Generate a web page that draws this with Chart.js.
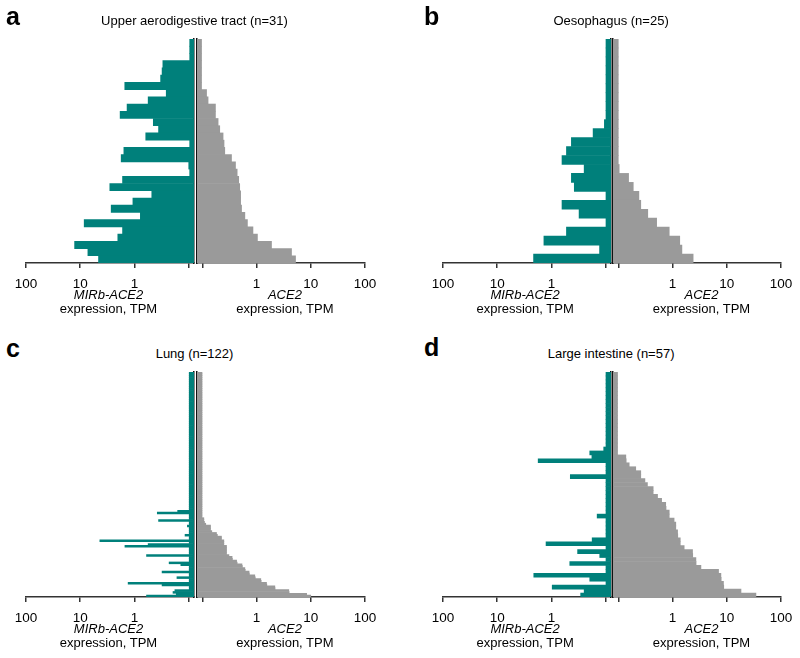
<!DOCTYPE html>
<html>
<head>
<meta charset="utf-8">
<script src="https://cdn.jsdelivr.net/npm/chart.js@4.4.1/dist/chart.umd.min.js"></script>
<style>
  body{margin:0;background:#fff}
  #fig{position:relative;width:800px;height:658px;background:#fff;overflow:hidden;
       font-family:Arial,"Liberation Sans",sans-serif;color:#000}
  #fig canvas{position:absolute}
  .txt{position:absolute;white-space:nowrap;font-size:13px;line-height:14.3px;text-align:center;transform:translateX(-50%)}
  .letter{position:absolute;font-weight:bold;font-size:25px;line-height:25px}
</style>
</head>
<body>
<div id="fig"></div>
<script>
/* ── DATA (TPM per sample, top row first) ───────────────── */
const panelLetters = ['a','b','c','d'];
const panelTitles  = ['Upper aerodigestive tract (n=31)','Oesophagus (n=25)','Lung (n=122)','Large intestine (n=57)'];
const tickValues   = [0.1, 1, 10, 100];
const tickLabels   = ['', '1', '10', '100'];
const leftGene  = 'MIRb-ACE2';
const rightGene = 'ACE2';
const axisUnit  = 'expression, TPM';

const aMirb = [0.096,0.096,0.096,0.30,0.31,0.33,1.51,0.26,0.56,1.37,
               1.84,0.45,0.36,0.62,0.096,1.57,1.76,0.10,0.096,1.66,
               2.85,0.48,1.07,2.69,0.78,8.46,1.66,2.03,12.7,7.23,
               4.6];
const aAce2 = [0.097,0.097,0.097,0.097,0.097,0.097,0.097,0.12,0.128,0.175,
               0.175,0.196,0.21,0.242,0.252,0.26,0.346,0.41,0.44,0.47,
               0.49,0.51,0.51,0.53,0.61,0.68,0.86,1.04,1.89,4.42,
               5.24];

const bMirb = [0.099,0.099,0.099,0.099,0.099,0.099,0.099,0.099,0.099,0.106,
               0.171,0.43,0.53,0.64,0.25,0.43,0.38,0.099,0.64,0.31,
               0.099,0.53,1.38,0.13,2.14];
const bAce2 = [0.1,0.1,0.1,0.1,0.1,0.1,0.1,0.1,0.1,0.1,
               0.1,0.1,0.1,0.1,0.104,0.155,0.189,0.24,0.26,0.35,
               0.51,0.87,1.36,1.49,2.4];

const cMirb = [0.098,0.098,0.098,0.098,0.098,0.098,0.098,0.098,0.098,0.098,
               0.098,0.098,0.098,0.098,0.098,0.098,0.098,0.098,0.098,0.098,
               0.098,0.098,0.098,0.098,0.098,0.098,0.098,0.098,0.098,0.098,
               0.098,0.098,0.098,0.098,0.098,0.098,0.098,0.098,0.098,0.098,
               0.098,0.098,0.098,0.098,0.098,0.098,0.098,0.098,0.098,0.098,
               0.098,0.098,0.098,0.098,0.098,0.098,0.098,0.098,0.098,0.098,
               0.098,0.098,0.098,0.098,0.098,0.098,0.098,0.098,0.098,0.098,
               0.098,0.098,0.098,0.098,0.098,0.16,0.38,0.098,0.098,0.098,
               0.36,0.098,0.098,0.106,0.098,0.098,0.098,0.098,0.117,0.098,
               0.098,4.35,0.098,0.56,1.5,0.098,0.098,0.098,0.098,0.6,
               0.098,0.098,0.098,0.23,0.14,0.098,0.098,0.098,0.31,0.098,
               0.098,0.165,0.098,0.098,1.31,0.31,0.098,0.098,0.18,0.195,
               0.17,0.6];
const cAce2 = [0.099,0.099,0.099,0.099,0.099,0.099,0.099,0.099,0.099,0.099,
               0.099,0.099,0.099,0.099,0.099,0.099,0.099,0.099,0.099,0.099,
               0.099,0.099,0.099,0.099,0.099,0.099,0.099,0.099,0.099,0.099,
               0.099,0.099,0.099,0.099,0.099,0.099,0.099,0.099,0.099,0.099,
               0.099,0.099,0.099,0.099,0.099,0.099,0.099,0.099,0.099,0.099,
               0.099,0.099,0.099,0.099,0.099,0.099,0.099,0.099,0.099,0.099,
               0.099,0.099,0.099,0.099,0.099,0.099,0.099,0.099,0.099,0.099,
               0.099,0.099,0.099,0.099,0.099,0.099,0.099,0.099,0.099,0.107,
               0.107,0.11,0.116,0.142,0.142,0.142,0.15,0.183,0.19,0.226,
               0.226,0.25,0.25,0.25,0.28,0.28,0.28,0.28,0.28,0.31,
               0.355,0.36,0.43,0.44,0.54,0.55,0.61,0.62,0.73,0.74,
               0.93,0.95,1.2,1.22,1.53,1.55,2.18,2.2,3.94,4.0,
               8.4,10];

const dMirb = [0.099,0.099,0.099,0.099,0.099,0.099,0.099,0.099,0.099,0.099,
               0.099,0.099,0.099,0.099,0.099,0.099,0.099,0.099,0.099,0.109,
               0.197,0.18,1.76,0.099,0.099,0.099,0.45,0.099,0.099,0.099,
               0.099,0.099,0.099,0.099,0.099,0.099,0.144,0.099,0.099,0.099,
               0.099,0.099,0.178,1.26,0.099,0.33,0.129,0.099,0.46,0.099,
               0.099,2.12,0.197,0.099,0.97,0.25,0.29];
const dAce2 = [0.097,0.097,0.097,0.097,0.097,0.097,0.097,0.097,0.097,0.097,
               0.097,0.097,0.097,0.097,0.097,0.097,0.097,0.097,0.097,0.097,
               0.097,0.138,0.14,0.159,0.21,0.26,0.26,0.31,0.345,0.44,
               0.44,0.53,0.63,0.75,0.76,0.87,0.87,1.07,1.15,1.15,
               1.24,1.25,1.39,1.39,1.64,2.34,2.36,2.7,2.72,3.34,
               7.06,7.8,7.9,8.7,8.8,18.3,34.5];

const mirbSeries = [aMirb, bMirb, cMirb, dMirb];
const ace2Series = [aAce2, bAce2, cAce2, dAce2];

/* ── LAYOUT (page px) ────────────────────────────────────── */
const AXIS_MIN = 0.08, AXIS_MAX = 100;
const AREA_W = 168.2;
const FONT = 'Arial, "Liberation Sans", sans-serif';
const TEAL = '#00807b', GREY = '#9a9a9a';
const boxes = [
  { lx: 26,    rx: 196.8, top: 39,  bottom: 263, letterX: 6,   letterTop: 4   },
  { lx: 442.6, rx: 613.4, top: 39,  bottom: 263, letterX: 424, letterTop: 4   },
  { lx: 26,    rx: 196.8, top: 372, bottom: 597, letterX: 6,   letterTop: 336 },
  { lx: 442.6, rx: 613.4, top: 372, bottom: 597, letterX: 424, letterTop: 335 },
];

const fig = document.getElementById('fig');

function addText(cls, html, x, y){
  const d = document.createElement('div');
  d.className = cls; d.innerHTML = html;
  d.style.left = x + 'px'; d.style.top = y + 'px';
  fig.appendChild(d);
  return d;
}

function makeHalf(values, color, box, isLeft){
  const padL = isLeft ? 20 : 4, padR = isLeft ? 4 : 26;
  const cv = document.createElement('canvas');
  cv.width = Math.round(padL + AREA_W + padR);
  cv.height = Math.round(10 + (box.bottom - box.top) + 40);
  cv.style.left = ((isLeft ? box.lx : box.rx) - padL) + 'px';
  cv.style.top = (box.top - 10) + 'px';
  fig.appendChild(cv);
  return new Chart(cv, {
    type: 'bar',
    data: {
      labels: values.map((_, i) => i + 1),
      datasets: [{ data: values, backgroundColor: color, borderWidth: 0, barPercentage: 1, categoryPercentage: 1 }]
    },
    options: {
      indexAxis: 'y', responsive: false, animation: false,
      layout: { padding: { left: padL, right: padR, top: 10, bottom: 0 } },
      plugins: { legend: { display: false }, tooltip: { enabled: false } },
      scales: {
        x: {
          type: 'logarithmic', reverse: isLeft, min: AXIS_MIN, max: AXIS_MAX, z: 1,
          afterBuildTicks: s => { s.ticks = tickValues.map(v => ({ value: v })); },
          afterFit: s => { s.height = 40; },
          ticks: { callback: (v, i) => tickLabels[i], autoSkip: false, maxRotation: 0, padding: 8,
                   color: '#000', font: { size: 13.5, family: FONT } },
          grid: { display: true, drawOnChartArea: false, drawTicks: true, tickLength: 5, color: '#333', lineWidth: 1.5 },
          border: { display: true, color: '#333', width: 1.5 }
        },
        y: {
          position: isLeft ? 'right' : 'left', offset: true, z: 1,
          ticks: { display: false },
          grid: { display: false, drawTicks: false },
          border: { display: true, color: '#111', width: 1.5 }
        }
      }
    }
  });
}

boxes.forEach((box, p) => {
  makeHalf(mirbSeries[p], TEAL, box, true);
  makeHalf(ace2Series[p], GREY, box, false);

  addText('letter', panelLetters[p], box.letterX, box.letterTop);
  const mid = (box.lx + AREA_W + box.rx) / 2;
  addText('txt', panelTitles[p], mid - 1, box.top - 25.5);
  addText('txt', '<i>' + leftGene + '</i><br>' + axisUnit, box.lx + AREA_W / 2 - 1.6, box.bottom + 25);
  addText('txt', '<i>' + rightGene + '</i><br>' + axisUnit, box.rx + AREA_W / 2 + 4, box.bottom + 25);
});
</script>
</body>
</html>
